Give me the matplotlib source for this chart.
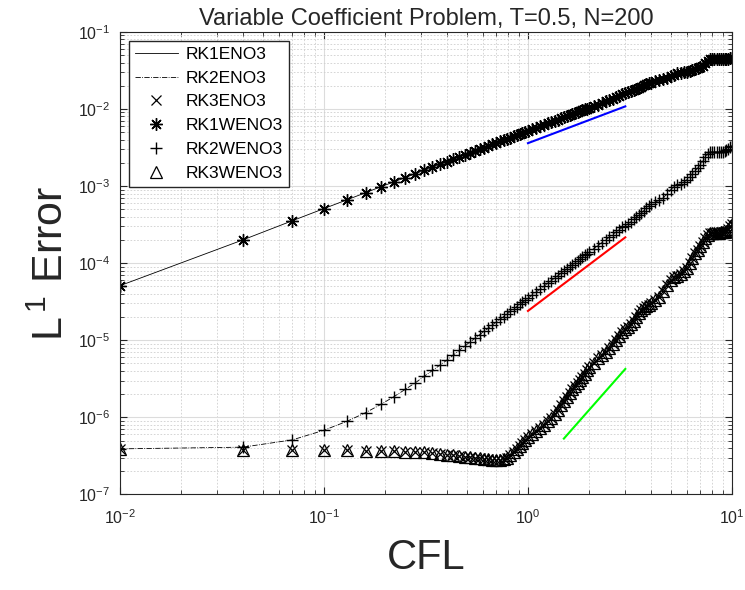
import matplotlib.pyplot as plt
from matplotlib.ticker import LogLocator

plt.rcParams['font.family'] = ['Liberation Sans', 'DejaVu Sans']
plt.rcParams['mathtext.fontset'] = 'custom'
plt.rcParams['mathtext.rm'] = 'Liberation Sans'
plt.rcParams['mathtext.it'] = 'Liberation Sans:italic'

# CFL numbers used in the runs
cfl = [0.01, 0.04, 0.07, 0.10, 0.13, 0.16, 0.19, 0.22, 0.25, 0.28,
       0.31, 0.34, 0.37, 0.40, 0.43, 0.46, 0.49, 0.52, 0.55, 0.58,
       0.61, 0.64, 0.67, 0.70, 0.73, 0.76, 0.79, 0.82, 0.85, 0.88,
       0.91, 0.94, 0.97, 1.00,
       1.05, 1.10, 1.15, 1.20, 1.25, 1.30, 1.35, 1.40, 1.45, 1.50,
       1.55, 1.60, 1.65, 1.70, 1.75, 1.80, 1.85, 1.90, 1.95, 2.00,
       2.1, 2.2, 2.3, 2.4, 2.5, 2.6, 2.7, 2.8, 2.9, 3.0,
       3.1, 3.2, 3.3, 3.4, 3.5, 3.6, 3.7, 3.8, 3.9, 4.0,
       4.2, 4.4, 4.6, 4.8, 5.0, 5.2, 5.4, 5.6, 5.8, 6.0,
       6.2, 6.4, 6.6, 6.8, 7.0, 7.2, 7.4, 7.6, 7.8, 8.0,
       8.2, 8.4, 8.6, 8.8, 9.0, 9.2, 9.4, 9.6, 9.8, 10.0]

# L1 errors (ENO3 and WENO3 coincide at plot resolution)
err_rk1 = [5.1e-5, 2.0e-4, 3.55e-4, 5.1e-4, 6.65e-4, 8.2e-4, 9.8e-4, 1.13e-3, 1.29e-3, 1.44e-3,
           1.6e-3, 1.75e-3, 1.91e-3, 2.06e-3, 2.22e-3, 2.38e-3, 2.53e-3, 2.69e-3, 2.85e-3, 3.0e-3,
           3.16e-3, 3.32e-3, 3.47e-3, 3.63e-3, 3.79e-3, 3.94e-3, 4.1e-3, 4.26e-3, 4.41e-3, 4.57e-3,
           4.73e-3, 4.88e-3, 5.04e-3, 5.2e-3,
           5.45e-3, 5.72e-3, 5.98e-3, 6.25e-3, 6.5e-3, 6.76e-3, 7.02e-3, 7.28e-3, 7.55e-3, 7.8e-3,
           8.06e-3, 8.32e-3, 8.6e-3, 8.85e-3, 9.1e-3, 9.36e-3, 9.62e-3, 9.9e-3, 1.01e-2, 1.04e-2,
           1.08e-2, 1.13e-2, 1.19e-2, 1.25e-2, 1.3e-2, 1.36e-2, 1.43e-2, 1.49e-2, 1.55e-2, 1.6e-2,
           1.65e-2, 1.71e-2, 1.76e-2, 1.82e-2, 1.88e-2, 1.95e-2, 2.02e-2, 2.08e-2, 2.14e-2, 2.2e-2,
           2.28e-2, 2.35e-2, 2.45e-2, 2.55e-2, 2.65e-2, 2.78e-2, 2.9e-2, 2.97e-2, 3.0e-2, 3.05e-2,
           3.12e-2, 3.2e-2, 3.28e-2, 3.35e-2, 3.45e-2, 3.65e-2, 3.95e-2, 4.25e-2, 4.45e-2, 4.5e-2,
           4.5e-2, 4.48e-2, 4.48e-2, 4.5e-2, 4.5e-2, 4.5e-2, 4.48e-2, 4.5e-2, 4.52e-2, 4.55e-2]

err_rk2 = [3.9e-7, 4.1e-7, 5.1e-7, 6.8e-7, 8.9e-7, 1.15e-6, 1.47e-6, 1.85e-6, 2.3e-6, 2.8e-6,
           3.4e-6, 4.05e-6, 4.75e-6, 5.5e-6, 6.4e-6, 7.4e-6, 8.4e-6, 9.5e-6, 1.06e-5, 1.18e-5,
           1.31e-5, 1.44e-5, 1.58e-5, 1.73e-5, 1.88e-5, 2.03e-5, 2.2e-5, 2.37e-5, 2.54e-5, 2.72e-5,
           2.91e-5, 3.1e-5, 3.3e-5, 3.5e-5,
           3.86e-5, 4.24e-5, 4.63e-5, 5.04e-5, 5.47e-5, 5.92e-5, 6.38e-5, 6.86e-5, 7.36e-5, 7.88e-5,
           8.41e-5, 8.96e-5, 9.53e-5, 1.01e-4, 1.07e-4, 1.13e-4, 1.2e-4, 1.26e-4, 1.33e-4, 1.4e-4,
           1.54e-4, 1.69e-4, 1.84e-4, 2.0e-4, 2.17e-4, 2.35e-4, 2.53e-4, 2.72e-4, 2.9e-4, 3.05e-4,
           3.25e-4, 3.45e-4, 3.7e-4, 3.95e-4, 4.2e-4, 4.5e-4, 4.8e-4, 5.15e-4, 5.5e-4, 5.8e-4,
           6.2e-4, 6.5e-4, 7.0e-4, 7.9e-4, 8.9e-4, 9.8e-4, 1.04e-3, 1.07e-3, 1.12e-3, 1.2e-3,
           1.32e-3, 1.45e-3, 1.58e-3, 1.72e-3, 1.9e-3, 2.1e-3, 2.35e-3, 2.6e-3, 2.75e-3, 2.8e-3,
           2.78e-3, 2.75e-3, 2.75e-3, 2.75e-3, 2.8e-3, 2.85e-3, 2.95e-3, 3.05e-3, 3.2e-3, 3.35e-3]

err_rk3 = [3.85e-7, 3.8e-7, 3.8e-7, 3.8e-7, 3.75e-7, 3.7e-7, 3.7e-7, 3.65e-7, 3.6e-7, 3.55e-7,
           3.5e-7, 3.45e-7, 3.35e-7, 3.25e-7, 3.2e-7, 3.15e-7, 3.1e-7, 3.05e-7, 3.0e-7, 2.95e-7,
           2.9e-7, 2.85e-7, 2.8e-7, 2.8e-7, 2.8e-7, 2.85e-7, 3.0e-7, 3.2e-7, 3.5e-7, 3.9e-7,
           4.3e-7, 4.7e-7, 5.1e-7, 5.5e-7,
           6.1e-7, 6.7e-7, 7.3e-7, 8.0e-7, 8.9e-7, 9.9e-7, 1.1e-6, 1.25e-6, 1.45e-6, 1.65e-6,
           1.85e-6, 2.05e-6, 2.3e-6, 2.55e-6, 2.8e-6, 3.05e-6, 3.35e-6, 3.7e-6, 4.1e-6, 4.5e-6,
           5.1e-6, 5.8e-6, 6.4e-6, 7.1e-6, 8.0e-6, 9.0e-6, 1.0e-5, 1.12e-5, 1.26e-5, 1.4e-5,
           1.5e-5, 1.62e-5, 1.8e-5, 2.0e-5, 2.25e-5, 2.45e-5, 2.6e-5, 2.75e-5, 2.85e-5, 3.0e-5,
           3.3e-5, 3.6e-5, 4.3e-5, 5.2e-5, 6.1e-5, 6.6e-5, 6.9e-5, 7.2e-5, 7.9e-5, 8.7e-5,
           1.0e-4, 1.18e-4, 1.35e-4, 1.5e-4, 1.68e-4, 1.9e-4, 2.15e-4, 2.35e-4, 2.45e-4, 2.45e-4,
           2.45e-4, 2.45e-4, 2.45e-4, 2.5e-4, 2.5e-4, 2.55e-4, 2.65e-4, 2.8e-4, 3.0e-4, 3.25e-4]

# reference slope segments (order 1, 2, 3)
ref1_cfl = [1.0, 3.0]
ref1_err = [3.6e-3, 1.08e-2]
ref2_cfl = [1.0, 3.0]
ref2_err = [2.4e-5, 2.16e-4]
ref3_cfl = [1.5, 3.0]
ref3_err = [5.3e-7, 4.24e-6]

fig = plt.figure(figsize=(7.45, 5.9), dpi=100)
ax = fig.add_axes([0.161, 0.162, 0.8215, 0.784])

ax.plot(cfl, err_rk1, color="k", linestyle="-", linewidth=0.6, label="RK1ENO3")
ax.plot(cfl, err_rk2, color="k", linestyle="-.", linewidth=0.6, label="RK2ENO3")
ax.plot(cfl, err_rk3, color="k", linestyle="none", marker="x", markersize=7,
        markeredgewidth=0.9, label="RK3ENO3")
ax.plot(cfl, err_rk1, color="k", linestyle="none", marker=(8, 2, 0), markersize=9,
        markeredgewidth=1.0, label="RK1WENO3")
ax.plot(cfl, err_rk2, color="k", linestyle="none", marker="+", markersize=9,
        markeredgewidth=1.0, label="RK2WENO3")
ax.plot(cfl, err_rk3, color="k", linestyle="none", marker="^", markersize=8,
        markerfacecolor="none", markeredgewidth=0.9, label="RK3WENO3")

ax.plot(ref1_cfl, ref1_err, color=(0, 0, 1), linewidth=1.5)
ax.plot(ref2_cfl, ref2_err, color=(1, 0, 0), linewidth=1.5)
ax.plot(ref3_cfl, ref3_err, color=(0, 1, 0), linewidth=1.5)

ax.set_xscale("log")
ax.set_yscale("log")
ax.set_xlim(1e-2, 1e1)
ax.set_ylim(1e-7, 1e-1)
ax.yaxis.set_major_locator(LogLocator(base=10, numticks=10))
ax.yaxis.set_minor_locator(LogLocator(base=10, subs=range(2, 10), numticks=20))

ax.grid(True, which="major", color="#dcdcdc", linestyle="-", linewidth=0.8)
ax.grid(True, which="minor", color="#cfcfcf", linestyle=(0, (2, 2)), linewidth=0.6)
ax.set_axisbelow(True)

ax.tick_params(which="both", direction="in", top=True, right=True, colors="#262626",
               labelsize=11.5)
ax.tick_params(which="major", length=5)
ax.tick_params(which="minor", length=3)
ax.tick_params(axis="x", which="major", pad=10)
ax.tick_params(axis="y", which="major", pad=7)
for s in ax.spines.values():
    s.set_color("#262626")
    s.set_linewidth(0.8)

ax.set_title("Variable Coefficient Problem, T=0.5, N=200", fontsize=17, pad=5,
             color="#262626")
ax.set_xlabel("CFL", fontsize=30, labelpad=8, color="#262626")
ax.set_ylabel("L$^{\\,1}$ Error", fontsize=31, labelpad=4, color="#262626")

ax.legend(loc="upper left", fontsize=12.5, frameon=True, fancybox=False,
          edgecolor="#262626", framealpha=1, labelspacing=0.5, handlelength=2.5,
          handletextpad=0.45, borderpad=0.35, borderaxespad=0.5)

fig.savefig("out.png", dpi=100)
